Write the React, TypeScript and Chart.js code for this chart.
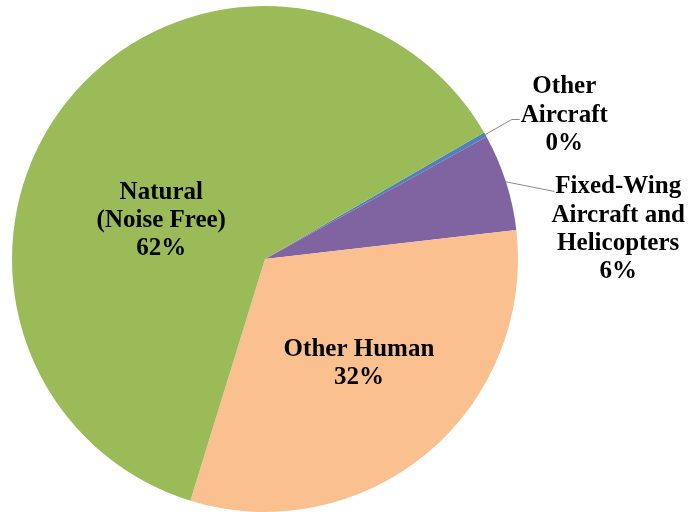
import React, { useEffect, useRef } from "react";
import { Chart, registerables } from "chart.js";

Chart.register(...registerables);

const categories = [
  "Other Aircraft",
  "Fixed-Wing Aircraft and Helicopters",
  "Other Human",
  "Natural (Noise Free)",
];
const shares = [0.3, 6.2, 31.6, 61.9];
const labelLines = [
  ["Other", "Aircraft"],
  ["Fixed-Wing", "Aircraft and", "Helicopters"],
  ["Other Human"],
  ["Natural", "(Noise Free)"],
];
const colors = ["#4F81BD", "#8064A2", "#FAC090", "#9BBB59"];

type Place =
  | { kind: "inside"; turn: number; frac: number }
  | { kind: "outside"; dx: number; dy: number; attachLine: number; elbow: number };

const placements: Place[] = [
  { kind: "outside", dx: 1.183, dy: -0.577, attachLine: 1, elbow: 8 },
  { kind: "outside", dx: 1.396, dy: -0.125, attachLine: 0, elbow: 0 },
  { kind: "inside", turn: -2.75, frac: 0.55 },
  { kind: "inside", turn: -17.3, frac: 0.44 },
];

const FONT = "bold 25px 'Liberation Serif', 'Times New Roman', serif";
const LINE_H = 28.3;
const CAP_HALF = 8.5;

const labelPlugin = {
  id: "sliceLabels",
  afterDatasetsDraw(chart: any) {
    const ctx: CanvasRenderingContext2D = chart.ctx;
    const meta = chart.getDatasetMeta(0);
    const total = shares.reduce((a, b) => a + b, 0);
    ctx.save();
    ctx.font = FONT;
    ctx.fillStyle = "#000000";
    ctx.textAlign = "center";
    ctx.textBaseline = "alphabetic";
    meta.data.forEach((arc: any, i: number) => {
      const p = arc.getProps(["x", "y", "startAngle", "endAngle", "outerRadius"], true);
      const { x, y, startAngle, endAngle, outerRadius: r } = p;
      const mid = (startAngle + endAngle) / 2;
      const pct = Math.round((shares[i] / total) * 100) + "%";
      const lines = [...labelLines[i], pct];
      const place = placements[i];
      let tx: number, ty: number;
      if (place.kind === "inside") {
        const a = mid + (place.turn * Math.PI) / 180;
        tx = x + Math.cos(a) * r * place.frac;
        ty = y + Math.sin(a) * r * place.frac;
      } else {
        tx = x + place.dx * r;
        ty = y + place.dy * r;
      }
      const firstBase = ty - ((lines.length - 1) * LINE_H) / 2 + CAP_HALF;
      if (place.kind === "outside") {
        const ln = lines[place.attachLine];
        const w = ctx.measureText(ln).width;
        const ex = tx - w / 2 - 1;
        const ey = firstBase + place.attachLine * LINE_H - 2;
        const sx = x + Math.cos(mid) * r;
        const sy = y + Math.sin(mid) * r;
        ctx.save();
        ctx.strokeStyle = "#8a8a8a";
        ctx.lineWidth = 1;
        ctx.beginPath();
        ctx.moveTo(sx, sy);
        ctx.lineTo(ex - place.elbow, ey);
        ctx.lineTo(ex, ey);
        ctx.stroke();
        ctx.restore();
      }
      lines.forEach((t, k) => {
        ctx.fillText(t, tx, firstBase + k * LINE_H);
      });
    });
    ctx.restore();
  },
};

export default function App() {
  const ref = useRef<HTMLCanvasElement | null>(null);
  useEffect(() => {
    if (!ref.current) return;
    const chart = new Chart(ref.current, {
      type: "pie",
      data: {
        labels: categories,
        datasets: [
          {
            data: shares,
            backgroundColor: colors,
            borderWidth: 0,
          },
        ],
      },
      options: {
        responsive: false,
        animation: false,
        devicePixelRatio: 1,
        rotation: 60,
        layout: { padding: { left: 12, right: 173, top: 6, bottom: 0 } },
        plugins: {
          legend: { display: false },
          tooltip: { enabled: false },
          title: { display: false },
        },
      },
      plugins: [labelPlugin],
    });
    return () => chart.destroy();
  }, []);
  return (
    <div style={{ position: "absolute", left: 0, top: 0, width: 691, height: 512, background: "#ffffff" }}>
      <canvas ref={ref} width={691} height={512} />
    </div>
  );
}
